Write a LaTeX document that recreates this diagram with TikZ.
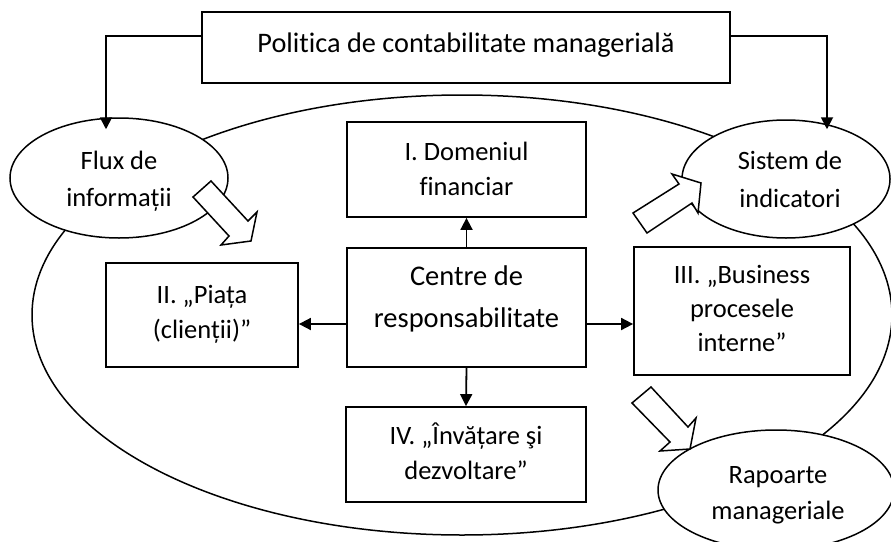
\documentclass[tikz,border=0pt]{standalone}
\usepackage{fontspec}
\setmainfont{Carlito}[Ligatures=NoCommon]
\usetikzlibrary{arrows.meta,shapes.geometric}
\begin{document}
\begin{tikzpicture}[x=1pt,y=-1pt,
  box/.style={draw, line width=1.8pt, fill=white, inner sep=0pt},
  oval/.style={draw, ellipse, line width=1.5pt, fill=white, inner sep=0pt},
  txt/.style={inner sep=0pt, align=center, font=\fontsize{26.5}{36}\selectfont},
  conn/.style={line width=1.8pt, -{Triangle[length=12pt,width=12pt]}},
  blockarrow/.style={draw, line width=1.5pt, fill=white, line join=miter}
]
\useasboundingbox (0,0) rectangle (891,541);
\clip (0,0) rectangle (891,541);

% large enclosing ellipse
\node[draw, ellipse, line width=1.5pt, inner sep=0pt, minimum width=860pt, minimum height=440pt] (big) at (462,315) {};

% small ellipses
\node[oval, minimum width=218pt, minimum height=120pt] (flux) at (119,178) {};
\node[oval, minimum width=208pt, minimum height=118pt] (sis) at (786,179) {};
\node[oval, minimum width=236pt, minimum height=120pt] (rap) at (776,490) {};
\node[txt, font=\fontsize{26.5}{37}\selectfont] (fluxT) at ([yshift=-3pt]flux.center) {Flux de\\informații};
\node[txt, font=\fontsize{26.5}{38}\selectfont] (sisT) at ([xshift=4pt]sis.center) {Sistem de\\indicatori};
\node[txt, font=\fontsize{26.5}{36}\selectfont] (rapT) at ([xshift=2pt,yshift=-5pt]rap.center) {Rapoarte\\manageriale};

% boxes
\node[box, minimum width=528pt, minimum height=71pt] (pol) at (466,47.5) {};
\node[box, minimum width=239pt, minimum height=95pt] (dom) at (466.5,169.5) {};
\node[box, minimum width=239pt, minimum height=119pt] (cen) at (466.5,307.5) {};
\node[box, minimum width=192pt, minimum height=104pt] (pia) at (202,315) {};
\node[box, minimum width=216pt, minimum height=128pt] (ter) at (742,311) {};
\node[box, minimum width=240pt, minimum height=95pt] (inv) at (466,454.5) {};

\node[txt, font=\fontsize{28.3}{34}\selectfont] (polT) at ([yshift=2.5pt]pol.center) {Politica de contabilitate managerială};
\node[txt, font=\fontsize{26.5}{35}\selectfont] (domT) at ([yshift=1pt]dom.center) {I. Domeniul\\financiar};
\node[txt, font=\fontsize{28.5}{42}\selectfont] (cenT) at ([yshift=8.5pt]cen.center) {Centre de\\responsabilitate};
\node[txt, font=\fontsize{26.5}{35}\selectfont] (piaT) at ([yshift=1pt]pia.center) {II. „Piața\\(clienții)”};
\node[txt, font=\fontsize{26.5}{34}\selectfont] (terT) at ([yshift=3pt]ter.center) {III. „Business\\procesele\\interne”};
\node[txt, font=\fontsize{26.5}{35}\selectfont] (invT) at ([yshift=3.5pt]inv.center) {IV. „Învățare şi\\dezvoltare”};

% connectors
\draw[conn] ([yshift=11.5pt]pol.west) -| ([xshift=-13pt,yshift=-12pt]flux.north);
\draw[conn] ([yshift=11.5pt]pol.east) -| ([xshift=41pt,yshift=-10pt]sis.north);
\draw[conn] (cen.north) -- (dom.south);
\draw[conn] (cen.south) -- (inv.north);
\draw[conn] ([yshift=-16.5pt]cen.west) -- ([yshift=-16.5pt]cen.west -| pia.east);
\draw[conn] ([yshift=-16.5pt]cen.east) -- ([yshift=-16.5pt]cen.east -| ter.west);

% hollow block arrows
\draw[blockarrow] (193,197) -- (211,181) -- (248,221) -- (257,212) -- (251,241) -- (221,245) -- (229,236) -- cycle;
\draw[blockarrow] (633,213) -- (679,184) -- (672,174) -- (701,183) -- (698,213) -- (692,203) -- (647,233) -- cycle;
\draw[blockarrow] (632,403) -- (651,387) -- (688,427) -- (696,418) -- (690,449) -- (660,451) -- (670,442) -- cycle;
\end{tikzpicture}
\end{document}
